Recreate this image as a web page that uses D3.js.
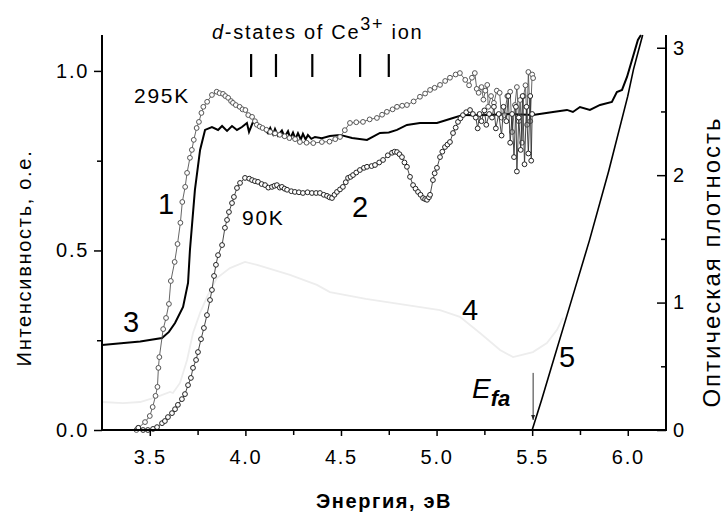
<!DOCTYPE html>
<html><head><meta charset="utf-8">
<script src="https://cdn.jsdelivr.net/npm/d3@7"></script>
<style>
body{margin:0;background:#fff}
svg{display:block}
text{font-family:"Liberation Sans",Arial,sans-serif;fill:#000}
</style>
</head><body>
<svg id="c" width="726" height="514"></svg>
<script>
// ---------- data ----------
const xTicks=[3.5,4.0,4.5,5.0,5.5,6.0];
const xMinor=[3.75,4.25,4.75,5.25,5.75];
const yLeftTicks=[0,0.5,1.0];
const yLeftMinor=[0.25,0.75];
const yRightTicks=[0,1,2,3];
const yRightMinor=[0.5,1.5,2.5];
const dStates=[4.03,4.16,4.35,4.6,4.75];

// curve 1: 295K (left axis)
const curve1=[[3.43,0.0],[3.44,0.006],[3.475,0.022],[3.50,0.039],[3.515,0.064],[3.53,0.095],[3.54,0.12],[3.545,0.173],[3.55,0.203],[3.57,0.281],[3.585,0.312],[3.60,0.351],[3.61,0.415],[3.63,0.468],[3.645,0.518],[3.66,0.577],[3.67,0.635],[3.685,0.677],[3.695,0.716],[3.71,0.758],[3.72,0.78],[3.73,0.808],[3.745,0.841],[3.757,0.858],[3.77,0.883],[3.78,0.90],[3.80,0.914],[3.825,0.933],[3.85,0.942],[3.865,0.938],[3.883,0.936],[3.895,0.93],[3.91,0.925],[3.925,0.916],[3.935,0.911],[3.95,0.905],[3.97,0.90],[3.985,0.893],[4.0,0.891],[4.015,0.877],[4.035,0.872],[4.05,0.86],[4.06,0.85],[4.075,0.845],[4.09,0.841],[4.11,0.836],[4.13,0.83],[4.155,0.826],[4.18,0.822],[4.205,0.818],[4.23,0.813],[4.26,0.81],[4.285,0.802],[4.32,0.80],[4.355,0.799],[4.40,0.802],[4.44,0.803],[4.47,0.81],[4.495,0.816],[4.52,0.835],[4.547,0.855],[4.58,0.857],[4.615,0.858],[4.65,0.865],[4.688,0.869],[4.715,0.878],[4.74,0.886],[4.77,0.893],[4.793,0.90],[4.82,0.903],[4.845,0.905],[4.88,0.915],[4.913,0.928],[4.94,0.937],[4.966,0.947],[4.99,0.953],[5.018,0.961],[5.045,0.972],[5.07,0.981],[5.10,0.99],[5.122,0.994],[5.15,0.975],[5.17,0.96],[5.185,0.981],[5.20,0.994],[5.21,0.95],[5.22,0.939],[5.235,0.955],[5.245,0.92],[5.255,0.945],[5.265,0.961],[5.27,0.90],[5.285,0.93],[5.30,0.911],[5.315,0.945],[5.33,0.939],[5.34,0.87],[5.355,0.877],[5.37,0.93],[5.385,0.942],[5.395,0.83],[5.41,0.905],[5.42,0.955],[5.43,0.86],[5.437,0.919],[5.447,0.80],[5.455,0.93],[5.465,0.96],[5.473,0.85],[5.48,0.997],[5.49,0.86],[5.50,0.99],[5.505,0.98]];

// curve 2: 90K (left axis)
const curve2=[[3.44,0.006],[3.465,0.0],[3.49,0.0],[3.517,0.003],[3.538,0.008],[3.564,0.019],[3.579,0.025],[3.595,0.036],[3.616,0.047],[3.632,0.058],[3.647,0.07],[3.668,0.086],[3.684,0.10],[3.70,0.125],[3.715,0.145],[3.726,0.173],[3.742,0.195],[3.752,0.217],[3.768,0.253],[3.783,0.284],[3.799,0.32],[3.815,0.362],[3.825,0.39],[3.836,0.429],[3.846,0.46],[3.857,0.487],[3.878,0.515],[3.893,0.563],[3.904,0.585],[3.914,0.607],[3.93,0.632],[3.94,0.649],[3.956,0.674],[3.972,0.688],[3.998,0.702],[4.02,0.70],[4.035,0.696],[4.05,0.693],[4.066,0.691],[4.085,0.685],[4.103,0.682],[4.12,0.675],[4.139,0.677],[4.152,0.68],[4.165,0.682],[4.18,0.675],[4.191,0.677],[4.205,0.672],[4.218,0.669],[4.24,0.665],[4.259,0.663],[4.28,0.662],[4.301,0.66],[4.325,0.662],[4.348,0.66],[4.37,0.66],[4.39,0.66],[4.41,0.655],[4.427,0.652],[4.44,0.648],[4.453,0.646],[4.466,0.655],[4.479,0.663],[4.495,0.67],[4.51,0.677],[4.525,0.69],[4.537,0.702],[4.55,0.705],[4.563,0.71],[4.58,0.717],[4.599,0.724],[4.62,0.73],[4.636,0.733],[4.66,0.735],[4.678,0.738],[4.70,0.745],[4.72,0.752],[4.745,0.765],[4.767,0.772],[4.78,0.775],[4.793,0.774],[4.806,0.768],[4.819,0.76],[4.832,0.745],[4.845,0.733],[4.861,0.705],[4.877,0.682],[4.89,0.672],[4.903,0.663],[4.916,0.655],[4.929,0.646],[4.94,0.643],[4.95,0.641],[4.96,0.648],[4.966,0.655],[4.981,0.696],[4.99,0.715],[5.002,0.73],[5.018,0.76],[5.03,0.775],[5.044,0.788],[5.057,0.795],[5.07,0.802],[5.086,0.827],[5.10,0.842],[5.112,0.858],[5.125,0.868],[5.138,0.877],[5.155,0.885],[5.175,0.891],[5.19,0.88],[5.205,0.87],[5.215,0.84],[5.225,0.88],[5.235,0.86],[5.25,0.89],[5.26,0.85],[5.275,0.88],[5.29,0.87],[5.30,0.9],[5.31,0.84],[5.325,0.88],[5.34,0.82],[5.35,0.9],[5.365,0.86],[5.375,0.93],[5.385,0.80],[5.395,0.88],[5.405,0.76],[5.415,0.9],[5.42,0.72],[5.43,0.87],[5.44,0.78],[5.45,0.93],[5.46,0.74],[5.47,0.9],[5.48,0.77],[5.49,0.93],[5.495,0.75],[5.50,0.88]];

// curve 3: optical density (right axis)
const curve3=[[3.25,0.667],[3.35,0.68],[3.45,0.695],[3.564,0.722],[3.60,0.77],[3.632,0.84],[3.674,0.965],[3.70,1.154],[3.71,1.413],[3.736,1.884],[3.763,2.198],[3.789,2.355],[3.825,2.378],[3.857,2.355],[3.878,2.386],[3.904,2.347],[3.93,2.386],[3.956,2.355],[3.982,2.378],[4.008,2.41],[4.019,2.339],[4.04,2.418],[4.076,2.378],[4.10,2.36],[4.118,2.33],[4.13,2.37],[4.145,2.32],[4.155,2.363],[4.17,2.31],[4.191,2.35],[4.205,2.3],[4.223,2.345],[4.235,2.29],[4.249,2.335],[4.262,2.285],[4.275,2.33],[4.29,2.28],[4.301,2.325],[4.315,2.28],[4.327,2.315],[4.345,2.285],[4.364,2.30],[4.40,2.29],[4.442,2.308],[4.495,2.316],[4.558,2.292],[4.636,2.276],[4.704,2.331],[4.75,2.335],[4.793,2.355],[4.845,2.394],[4.913,2.41],[4.96,2.41],[5.002,2.41],[5.086,2.449],[5.138,2.473],[5.20,2.47],[5.264,2.473],[5.384,2.48],[5.504,2.473],[5.609,2.496],[5.682,2.512],[5.713,2.496],[5.75,2.535],[5.802,2.512],[5.855,2.551],[5.917,2.575],[5.943,2.653],[5.97,2.669],[5.996,2.771],[6.053,3.061],[6.069,3.10]];

// curve 4: light grey (left axis)
const curve4=[[3.25,0.078],[3.36,0.075],[3.449,0.078],[3.538,0.092],[3.606,0.106],[3.621,0.103],[3.658,0.131],[3.695,0.195],[3.726,0.27],[3.763,0.326],[3.804,0.376],[3.851,0.423],[3.919,0.451],[3.998,0.468],[4.061,0.46],[4.233,0.432],[4.374,0.404],[4.442,0.384],[4.63,0.365],[5.018,0.334],[5.122,0.315],[5.227,0.27],[5.332,0.223],[5.40,0.203],[5.504,0.217],[5.577,0.242],[5.63,0.279],[5.661,0.312]];

// curve 5: absorption edge (right axis)
const curve5=[[5.5,0],[5.55,0.24],[5.6,0.49],[5.7,0.99],[5.8,1.49],[5.9,2.03],[6.0,2.62],[6.03,2.83],[6.078,3.1]];

// ---------- scales ----------
const svg=d3.select("#c");
const x=d3.scaleLinear().domain([3.25,6.2]).range([102,666]);
const yL=d3.scaleLinear().domain([0,1.1]).range([430,35]);
const yR=d3.scaleLinear().domain([0,3.1]).range([430,35]);
const LS="1.7px";

// ---------- curves ----------
const lineL=d3.line().x(d=>x(d[0])).y(d=>yL(d[1]));
const lineR=d3.line().x(d=>x(d[0])).y(d=>yR(d[1]));

svg.append("path").attr("d",lineL(curve4)).attr("fill","none").attr("stroke","#ededed").attr("stroke-width",1.8);
svg.append("path").attr("d",lineR(curve5)).attr("fill","none").attr("stroke","#000").attr("stroke-width",1.6);
svg.append("path").attr("d",lineR(curve3)).attr("fill","none").attr("stroke","#000").attr("stroke-width",2);

function circles(data,lineCol,ptCol){
  svg.append("path").attr("d",lineL(data)).attr("fill","none").attr("stroke",lineCol).attr("stroke-width",0.9);
  svg.append("g").selectAll("circle").data(data).join("circle")
    .attr("cx",d=>x(d[0])).attr("cy",d=>yL(d[1])).attr("r",2.4)
    .attr("fill","#fff").attr("stroke",ptCol).attr("stroke-width",1);
}
circles(curve1,"#555","#555");
circles(curve2,"#333","#222");

// ---------- axes ----------
function styleAxis(g){
  g.select(".domain").remove();
  g.selectAll(".tick line").attr("stroke","#000").attr("stroke-width",1.5);
  g.selectAll("text").attr("font-size",20).attr("letter-spacing",LS).attr("fill","#000")
   .attr("font-family",'"Liberation Sans",Arial,sans-serif');
}
const gx=svg.append("g").attr("transform","translate(0,430)")
  .call(d3.axisBottom(x).tickValues(xTicks).tickFormat(d3.format(".1f")).tickSize(6).tickPadding(14));
styleAxis(gx);
const gxm=svg.append("g").attr("transform","translate(0,430)")
  .call(d3.axisBottom(x).tickValues(xMinor).tickFormat("").tickSize(5));
styleAxis(gxm);

const gl=svg.append("g").attr("transform","translate(102,0)")
  .call(d3.axisLeft(yL).tickValues(yLeftTicks).tickFormat(d3.format(".1f")).tickSize(8).tickPadding(5));
styleAxis(gl);
const glm=svg.append("g").attr("transform","translate(102,0)")
  .call(d3.axisLeft(yL).tickValues(yLeftMinor).tickFormat("").tickSize(5));
styleAxis(glm);

const gr=svg.append("g").attr("transform","translate(666,0)")
  .call(d3.axisRight(yR).tickValues(yRightTicks).tickFormat(d3.format("d")).tickSize(-9).tickPadding(7));
styleAxis(gr);
const grm=svg.append("g").attr("transform","translate(666,0)")
  .call(d3.axisRight(yR).tickValues(yRightMinor).tickFormat("").tickSize(-5));
styleAxis(grm);

// frame lines (left, bottom, right)
svg.append("path")
  .attr("d",`M${x(3.25)},${yL(1.1)}V${yL(0)}H${x(6.2)}V${yR(3.1)}`)
  .attr("fill","none").attr("stroke","#000").attr("stroke-width",2);

// ---------- d-states marks ----------
svg.append("g").selectAll("line").data(dStates).join("line")
  .attr("x1",d=>x(d)).attr("x2",d=>x(d)).attr("y1",yL(1.047)).attr("y2",yL(0.983))
  .attr("stroke","#000").attr("stroke-width",2.2);

const t=svg.append("text").attr("x",212).attr("y",39).attr("font-size",20).attr("letter-spacing",LS);
t.append("tspan").attr("font-style","italic").text("d");
t.append("tspan").text("-states of Ce");
t.append("tspan").attr("dy",-9).attr("font-size",18).text("3+");
t.append("tspan").attr("dy",9).text(" ion");

// ---------- labels ----------
function lab(txt,xx,yy,size,anchor){
  svg.append("text").attr("x",xx).attr("y",yy).attr("font-size",size)
    .attr("letter-spacing",LS).attr("text-anchor",anchor||"start").text(txt);
}
lab("295K",134,103,21);
lab("90K",242,225,21);
lab("1",167,214,29,"middle");
lab("2",361,217,29,"middle");
lab("3",132,332,29,"middle");
lab("4",471,320,29,"middle");
lab("5",568,367,29,"middle");

// E_fa
const e=svg.append("text").attr("x",472).attr("y",398).attr("font-size",28).attr("font-style","italic");
e.append("tspan").text("E");
e.append("tspan").attr("dy",8).attr("font-size",22).attr("font-weight","bold").text("fa");

// arrow
svg.append("defs").append("marker").attr("id","ah").attr("viewBox","0 0 10 10")
  .attr("refX",10).attr("refY",5).attr("markerWidth",5).attr("markerHeight",5).attr("orient","auto")
  .append("path").attr("d","M0,1L10,5L0,9Z").attr("fill","#222");
svg.append("line").attr("x1",x(5.505)).attr("x2",x(5.505)).attr("y1",yL(0.159)).attr("y2",yL(0.028))
  .attr("stroke","#333").attr("stroke-width",1).attr("marker-end","url(#ah)");

// axis titles
svg.append("text").attr("x",384).attr("y",508).attr("text-anchor","middle").attr("font-size",20)
  .attr("font-weight","bold").attr("letter-spacing","1.6px").text("Энергия, эВ");
svg.append("text").attr("transform","translate(31,258) rotate(-90)").attr("text-anchor","middle")
  .attr("font-size",20).attr("letter-spacing",LS).text("Интенсивность, о.е.");
svg.append("text").attr("transform","translate(720,262) rotate(-90)").attr("text-anchor","middle")
  .attr("font-size",24).attr("letter-spacing","2px").text("Оптическая плотность");
</script>
</body></html>
